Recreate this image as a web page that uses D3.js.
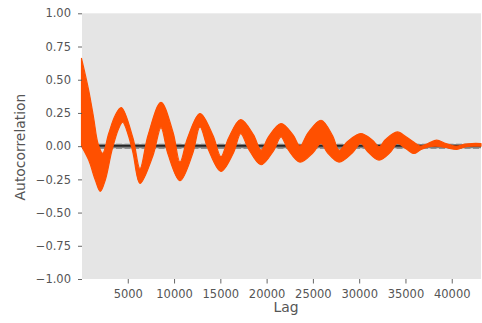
<!DOCTYPE html>
<html>
<head>
<meta charset="utf-8">
<script src="https://cdn.jsdelivr.net/npm/d3@7"></script>
<style>
  body { margin: 0; background: #fff; }
  svg { display: block; font-family: "DejaVu Sans", sans-serif; }
</style>
</head>
<body>
<div id="chart"></div>
<script>
// envelope of the autocorrelation trace, [lag, value]
const upperEnv = [
  [1, 0.66], [778, 0.42], [1318, 0.21], [1783, 0.02], [2290, -0.055], [2939, 0.095],
  [3652, 0.233], [4300, 0.29], [5564, 0.06], [6320, -0.17], [7185, 0.08], [8589, 0.33],
  [9886, 0.105], [10642, -0.12], [11452, 0.06], [12801, 0.245], [14207, 0.08], [15070, -0.08],
  [15882, 0.06], [17200, 0.2], [18583, 0.085], [19393, -0.03], [20203, 0.07], [21554, 0.17],
  [22850, 0.085], [23607, 0.0], [24471, 0.1], [25876, 0.195], [27118, 0.08], [27820, -0.03],
  [28739, 0.035], [30165, 0.095], [31440, 0.045], [32143, -0.005], [32844, 0.05], [34119, 0.107],
  [35060, 0.07], [35920, 0.03], [36570, 0.0], [37430, 0.02], [38370, 0.045], [39370, 0.02],
  [40540, 0.0], [41430, 0.015], [42190, 0.02], [43160, 0.02]
];
const lowerEnv = [
  [1, 0.0], [778, -0.105], [1491, -0.255], [2031, -0.34], [2571, -0.255], [3295, -0.03],
  [4019, 0.133], [4451, 0.18], [5024, 0.09], [5564, -0.05], [6320, -0.28], [7725, -0.07],
  [8589, 0.14], [9345, -0.06], [10642, -0.26], [11992, -0.06], [12801, 0.145], [13667, -0.02],
  [15070, -0.19], [16422, -0.05], [17200, 0.095], [18043, -0.02], [19393, -0.14], [20744, -0.035],
  [21554, 0.07], [22310, -0.025], [23607, -0.12], [25011, -0.05], [25876, 0.02], [26578, -0.05],
  [27820, -0.12], [29279, -0.05], [30165, 0.02], [30900, -0.04], [32143, -0.105], [33384, -0.045],
  [34119, 0.02], [35060, -0.02], [35920, -0.055], [36570, -0.03], [37430, -0.005], [38370, 0.0],
  [39370, -0.01], [40540, -0.025], [41430, -0.005], [42190, 0.0], [43160, 0.0]
];
// confidence lines drawn by pandas (99% dashed, 95% solid, zero)
const confLevels = [0.0124, 0.0094, 0, -0.0094, -0.0124];
const confDashed = [true, false, false, false, true];
const xTicks = [5000, 10000, 15000, 20000, 25000, 30000, 35000, 40000];
const yTicks = [-1, -0.75, -0.5, -0.25, 0, 0.25, 0.5, 0.75, 1];
const lagMax = 43160;

const width = 482, height = 323;
const svg = d3.select('#chart').append('svg')
  .attr('width', width)
  .attr('height', height);

const x = d3.scaleLinear().domain([1, lagMax]).range([81.5, 481]);
const y = d3.scaleLinear().domain([-1, 1]).range([279, 13.3]);

svg.append('rect')
  .attr('x', 82).attr('y', y(1))
  .attr('width', x(lagMax) - 82).attr('height', y(-1) - y(1))
  .attr('fill', '#e5e5e5');

const plot = svg.append('g').attr('class', 'group-plot');

plot.selectAll('line.conf')
  .data(confLevels)
  .enter().append('line')
  .attr('class', 'conf')
  .attr('x1', 82).attr('x2', x(lagMax))
  .attr('y1', d => y(d)).attr('y2', d => y(d))
  .attr('stroke', d => d === 0 ? '#000' : 'grey')
  .attr('stroke-width', 1.7)
  .attr('stroke-dasharray', (d, i) => confDashed[i] ? '6,2.5' : null);

const line = d3.line()
  .curve(d3.curveCatmullRom.alpha(0.5))
  .x(d => x(d[0]))
  .y(d => y(d[1]));

const upPath = line(upperEnv);
const lowPath = line(lowerEnv.slice().reverse());
plot.append('path')
  .attr('d', upPath + 'L' + lowPath.slice(1) + 'Z')
  .attr('fill', '#ff5000')
  .attr('stroke', '#ff5000')
  .attr('stroke-width', 1.2)
  .attr('stroke-linejoin', 'round');

const xAxis = svg.append('g')
  .attr('transform', `translate(0,${y(-1)})`)
  .call(d3.axisBottom(x).tickValues(xTicks).tickFormat(d3.format('d')).tickSize(4.5).tickPadding(6.5));
const yAxis = svg.append('g')
  .attr('transform', 'translate(82,0)')
  .call(d3.axisLeft(y).tickValues(yTicks).tickFormat(d3.format('.2f')).tickSize(4).tickPadding(7));

[xAxis, yAxis].forEach(g => {
  g.attr('font-family', null).attr('font-size', null);
  g.select('.domain').remove();
  g.selectAll('.tick line').attr('stroke', '#555').attr('stroke-width', 0.9);
  g.selectAll('.tick text')
    .attr('fill', '#555')
    .style('font-family', '"DejaVu Sans", sans-serif')
    .style('font-size', '11.5px');
});

svg.append('text')
  .attr('x', 286).attr('y', 312)
  .attr('text-anchor', 'middle')
  .attr('fill', '#555')
  .style('font-size', '13.9px')
  .text('Lag');

svg.append('text')
  .attr('transform', 'translate(25,147) rotate(-90)')
  .attr('text-anchor', 'middle')
  .attr('fill', '#555')
  .style('font-size', '13.9px')
  .text('Autocorrelation');
</script>
</body>
</html>
